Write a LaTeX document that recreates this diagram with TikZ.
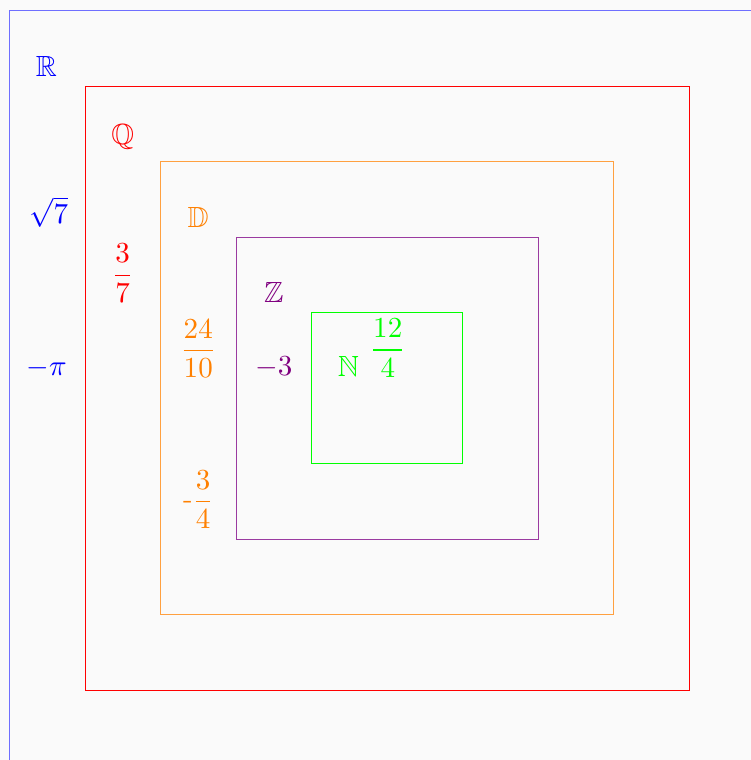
\documentclass[tikz,border=0pt]{standalone}
\usepackage{amsmath,amssymb}
\begin{document}
\begin{tikzpicture}[x=1cm,y=1cm,
  lab/.style={font=\fontsize{11}{13}\selectfont, inner sep=0pt},
  setbox/.style={line width=0.35pt}]
\definecolor{bg}{HTML}{FAFAFA}
\definecolor{rblue}{HTML}{6F6FFF}
\definecolor{rorange}{HTML}{FFA040}
\definecolor{torange}{HTML}{FF8000}
\definecolor{rpurple}{HTML}{9A3AA0}
\definecolor{tpurple}{HTML}{800080}
\definecolor{tgreen}{HTML}{00FF00}
\fill[bg] (-5.126,-4.927) rectangle (4.821,5.139);
\useasboundingbox (-5.126,-4.927) rectangle (4.821,5.139);
\begin{scope}
\clip (-5.126,-4.927) rectangle (4.821,5.139);
\draw[setbox, rblue, line width=0.45pt] (-5,-5) rectangle (5,5);
\end{scope}
\draw[setbox, red] (-4,-4) rectangle (4,4);
\draw[setbox, rorange] (-3,-3) rectangle (3,3);
\draw[setbox, rpurple] (-2,-2) rectangle (2,2);
\draw[setbox, tgreen] (-1,-1) rectangle (1,1);
% labels
\node[lab, text=blue] (R) at (-4.51,4.26) {$\mathbb{R}$};
\node[lab, text=blue] (s7) at (-4.48,2.33) {$\sqrt{7}$};
\node[lab, text=blue] (mpi) at (-4.51,0.265) {$-\pi$};
\node[lab, text=red] (Q) at (-3.50,3.32) {$\mathbb{Q}$};
\node[lab, text=red] (f37) at (-3.50,1.52) {$\dfrac{3}{7}$};
\node[lab, text=torange] (D) at (-2.50,2.26) {$\mathbb{D}$};
\node[lab, text=torange] (f2410) at (-2.50,0.52) {$\dfrac{24}{10}$};
\node[lab, text=torange] (f34) at (-2.50,-1.48) {-$\dfrac{3}{4}$};
\node[lab, text=tpurple] (Z) at (-1.50,1.26) {$\mathbb{Z}$};
\node[lab, text=tpurple] (m3) at (-1.50,0.28) {$-3$};
\node[lab, text=tgreen] (N) at (-0.51,0.28) {$\mathbb{N}$};
\node[lab, text=tgreen] (f124) at (0.01,0.53) {$\dfrac{12}{4}$};
\end{tikzpicture}
\end{document}
